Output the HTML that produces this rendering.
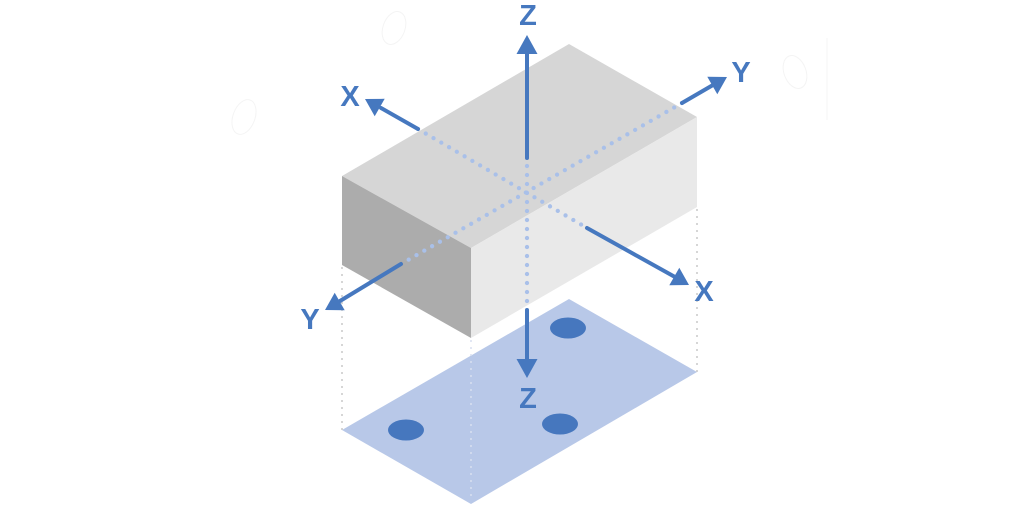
<!DOCTYPE html>
<html>
<head>
<meta charset="utf-8">
<style>
  html, body { margin: 0; padding: 0; background: #ffffff; }
  body { width: 1024px; height: 513px; overflow: hidden; }
  svg { display: block; }
  text { font-family: "Liberation Sans", "DejaVu Sans", sans-serif; font-weight: bold; fill: #4678bf; font-size: 29px; }
</style>
</head>
<body>
<svg width="1024" height="513" viewBox="0 0 1024 513" xmlns="http://www.w3.org/2000/svg">
  <!-- faint decorative ellipses -->
  <g fill="none" stroke="#f4f4f4" stroke-width="1">
    <ellipse cx="244" cy="117" rx="11" ry="18" transform="rotate(20 244 117)"/>
    <ellipse cx="394" cy="28" rx="11" ry="17" transform="rotate(20 394 28)"/>
    <ellipse cx="795" cy="72" rx="11" ry="17" transform="rotate(-20 795 72)"/>
    <line x1="827" y1="38" x2="827" y2="120"/>
  </g>

  <!-- base plane -->
  <polygon points="569,299 697,372 471,504 342,430" fill="#b8c8e8"/>
  <ellipse cx="568" cy="328" rx="18" ry="10.5" fill="#4677be"/>
  <ellipse cx="406" cy="430" rx="18" ry="10.5" fill="#4677be"/>
  <ellipse cx="560" cy="424" rx="18" ry="10.5" fill="#4677be"/>

  <!-- gray dotted verticals -->
  <g stroke="#c9c9c9" stroke-width="2" stroke-linecap="round" stroke-dasharray="0 7" fill="none">
    <line x1="342" y1="268" x2="342" y2="430"/>
    <line x1="697" y1="210" x2="697" y2="372"/>
  </g>
  <line x1="471" y1="341" x2="471" y2="502" stroke="#d8dff0" stroke-width="2" stroke-linecap="round" stroke-dasharray="0 7"/>

  <!-- box -->
  <polygon points="569,44 697,117 471,248 342,176" fill="#d6d6d6"/>
  <polygon points="342,176 471,248 471,338 342,265" fill="#acacac"/>
  <polygon points="471,248 697,117 697,207 471,338" fill="#e9e9e9"/>

  <!-- light blue dotted inner axes -->
  <g stroke="#a9c0e9" stroke-width="4.3" stroke-linecap="round" stroke-dasharray="0 9" fill="none">
    <line x1="418" y1="129" x2="587" y2="228"/>
    <line x1="682" y1="103" x2="401" y2="264"/>
    <line x1="527" y1="166" x2="527" y2="304"/>
  </g>

  <!-- solid arrows -->
  <g stroke="#4678bf" stroke-width="4" stroke-linecap="round" fill="none">
    <line x1="527" y1="158" x2="527" y2="52"/>
    <line x1="418" y1="129" x2="381" y2="108"/>
    <line x1="682" y1="103" x2="713" y2="85"/>
    <line x1="587" y1="228" x2="675" y2="277"/>
    <line x1="401" y1="264" x2="340" y2="301"/>
    <line x1="527" y1="310" x2="527" y2="362"/>
  </g>
  <g fill="#4678bf">
    <polygon points="527,35 516.5,54 537.5,54"/>
    <polygon points="365,99 384.7,98.8 374.7,116.2"/>
    <polygon points="727,77 717.3,94.2 707.3,76.8"/>
    <polygon points="689,285 669.3,285.2 679.3,267.8"/>
    <polygon points="325,310 344.7,310.2 334.7,292.8"/>
    <polygon points="527,378 516.5,359 537.5,359"/>
  </g>

  <!-- labels -->
  <text x="528" y="25" text-anchor="middle">Z</text>
  <text x="350" y="106" text-anchor="middle">X</text>
  <text x="741" y="82" text-anchor="middle">Y</text>
  <text x="704" y="301" text-anchor="middle">X</text>
  <text x="310" y="329" text-anchor="middle">Y</text>
  <text x="528" y="408" text-anchor="middle" font-size="28">Z</text>
</svg>
</body>
</html>
